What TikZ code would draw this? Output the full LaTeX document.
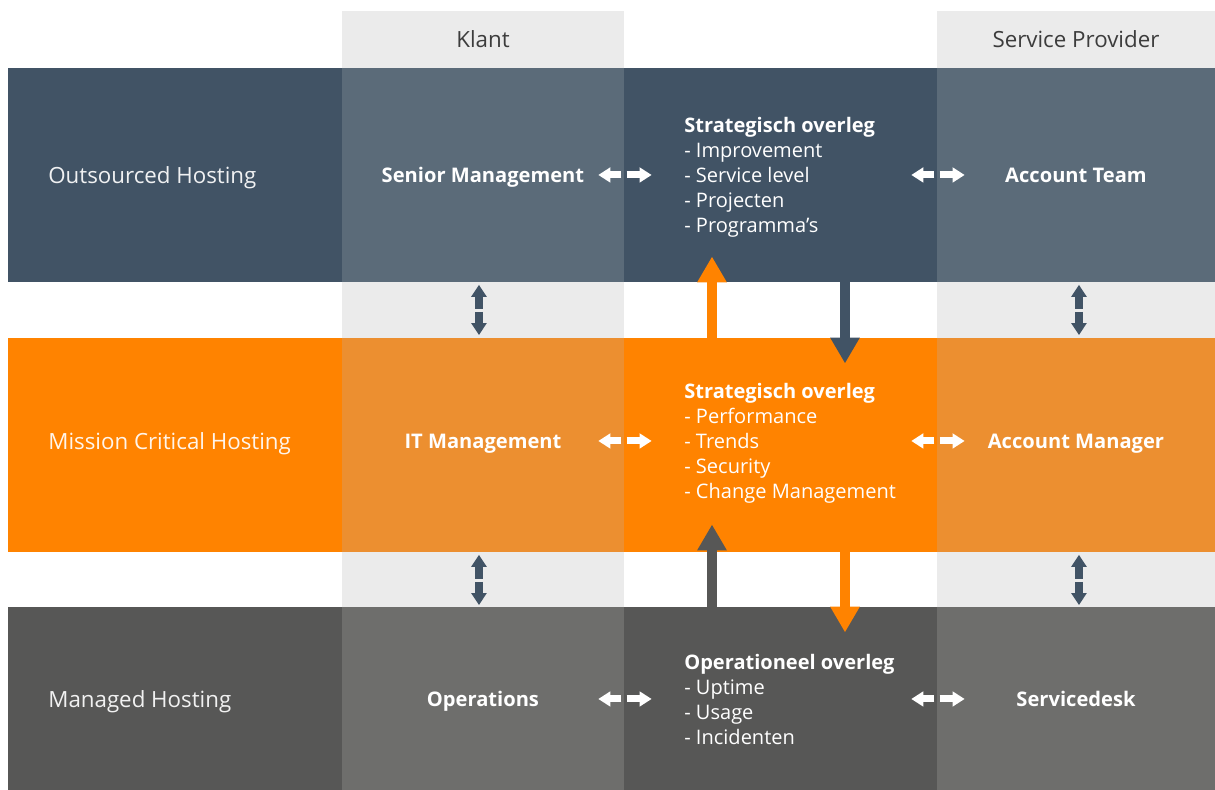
\documentclass[tikz,border=0pt]{standalone}
\usepackage{fontspec}
\setmainfont{Open Sans}
\usetikzlibrary{arrows.meta, positioning, calc}
\definecolor{bluedark}{HTML}{415365}
\definecolor{bluelight}{HTML}{5B6B79}
\definecolor{orangedark}{HTML}{FF8300}
\definecolor{orangelight}{HTML}{EC8F30}
\definecolor{greydark}{HTML}{575756}
\definecolor{greylight}{HTML}{6E6E6C}
\definecolor{gapgrey}{HTML}{EBEBEB}
\definecolor{headtext}{HTML}{3C3C3C}

\begin{document}
\begin{tikzpicture}[x=0.02cm, y=-0.02cm,
  cell/.style={anchor=north west, inner sep=0pt, outer sep=0pt},
  celltext/.style={inner sep=0pt, text=white, text height=0.75em, text depth=0.25em,
    font=\fontsize{11.45}{13}\selectfont\bfseries},
  headbox/.style={anchor=north west, inner sep=0pt, outer sep=0pt, fill=gapgrey,
    text=headtext, font=\fontsize{12.7}{14}\selectfont},
  rowlabel/.style={anchor=west, inner sep=0pt, text=white, text opacity=0.92,
    font=\fontsize{12.7}{15}\selectfont},
  topic/.style={anchor=west, inner sep=0pt, align=left, text=white,
    font=\fontsize{11.4}{14.2}\selectfont},
  wtip/.style={white, line width=4pt, -{Triangle[length=6.8pt, width=8.8pt, line width=0pt]}},
  vtip/.style={bluedark, line width=4.3pt, -{Triangle[length=6.8pt, width=9pt, line width=0pt]}},
  bigtip/.style={line width=6.2pt, -{Triangle[length=14.5pt, width=17pt, line width=0pt]}},
]
\useasboundingbox (0,0) rectangle (1215,790);

% Headers
\node[headbox, minimum width=5.64cm, minimum height=1.14cm] (klant) at (342,11) {Klant};
\node[headbox, minimum width=5.56cm, minimum height=1.14cm] (prov) at (937,11) {Service Provider};

% Row 1: Outsourced Hosting
\node[cell, fill=bluedark, minimum width=6.68cm, minimum height=4.28cm] (oh) at (8,68) {};
\node[cell, fill=bluelight, minimum width=5.64cm, minimum height=4.28cm] (sm) at (342,68) {};
\node[cell, fill=bluedark, minimum width=6.26cm, minimum height=4.28cm] (so1) at (624,68) {};
\node[cell, fill=bluelight, minimum width=5.56cm, minimum height=4.28cm] (at) at (937,68) {};
\node[rowlabel] (ohlabel) at ($(oh.west)+(40,3)$) {Outsourced Hosting};
\node[celltext] (smlabel) at ($(sm.center)+(0,3)$) {Senior Management};
\node[celltext] (atlabel) at ($(at.center)+(0,3)$) {Account Team};
\node[topic] (so1text) at (684,177) {{\bfseries Strategisch overleg}\\- Improvement\\- Service level\\- Projecten\\- Programma’s};

% Gap 1
\node[cell, fill=gapgrey, minimum width=5.64cm, minimum height=1.12cm] (g1b) at (342,282) {};
\node[cell, fill=gapgrey, minimum width=5.56cm, minimum height=1.12cm] (g1d) at (937,282) {};

% Row 2: Mission Critical Hosting
\node[cell, fill=orangedark, minimum width=6.68cm, minimum height=4.28cm] (mc) at (8,338) {};
\node[cell, fill=orangelight, minimum width=5.64cm, minimum height=4.28cm] (itm) at (342,338) {};
\node[cell, fill=orangedark, minimum width=6.26cm, minimum height=4.28cm] (so2) at (624,338) {};
\node[cell, fill=orangelight, minimum width=5.56cm, minimum height=4.28cm] (am) at (937,338) {};
\node[rowlabel] (mclabel) at ($(mc.west)+(40,-1)$) {Mission Critical Hosting};
\node[celltext] (itmlabel) at ($(itm.center)+(0,-1)$) {IT Management};
\node[celltext] (amlabel) at ($(am.center)+(0,-1)$) {Account Manager};
\node[topic] (so2text) at (684,443) {{\bfseries Strategisch overleg}\\- Performance\\- Trends\\- Security\\- Change Management};

% Gap 2
\node[cell, fill=gapgrey, minimum width=5.64cm, minimum height=1.10cm] (g2b) at (342,552) {};
\node[cell, fill=gapgrey, minimum width=5.56cm, minimum height=1.10cm] (g2d) at (937,552) {};

% Row 3: Managed Hosting
\node[cell, fill=greydark, minimum width=6.68cm, minimum height=3.66cm] (mh) at (8,607) {};
\node[cell, fill=greylight, minimum width=5.64cm, minimum height=3.66cm] (ops) at (342,607) {};
\node[cell, fill=greydark, minimum width=6.26cm, minimum height=3.66cm] (oo) at (624,607) {};
\node[cell, fill=greylight, minimum width=5.56cm, minimum height=3.66cm] (sd) at (937,607) {};
\node[rowlabel] (mhlabel) at ($(mh.west)+(40,3.5)$) {Managed Hosting};
\node[celltext] (opslabel) at ($(ops.center)+(0,3.5)$) {Operations};
\node[celltext] (sdlabel) at ($(sd.center)+(0,3.5)$) {Servicedesk};
\node[topic] (ootext) at (684,699.5) {{\bfseries Operationeel overleg}\\- Uptime\\- Usage\\- Incidenten};

% Horizontal double arrows
\foreach \a/\b/\dy in {sm/so1/0, itm/so2/-4, ops/oo/0.5, so1/at/0, so2/am/-4, oo/sd/0.5}{
  \draw[wtip] ($(\a.east)+(-2.5,\dy)$) -- ++(-23,0);
  \draw[wtip] ($(\b.west)+(2.5,\dy)$) -- ++(25,0);
}

% Vertical double arrows
\foreach \a/\dx in {sm/-4, itm/-4, at/3, am/3}{
  \draw[vtip] ($(\a.south)+(\dx,27)$) -- ++(0,-24);
  \draw[vtip] ($(\a.south)+(\dx,30)$) -- ++(0,23);
}

% Escalation arrows
\draw[bigtip, orangedark] ($(so2.north west)+(88,0)$) -- ($(so1.south west)+(88,-25)$);
\draw[bigtip, bluedark] ($(so1.south west)+(221,0)$) -- ($(so2.north west)+(221,25)$);
\draw[bigtip, greydark] ($(oo.north west)+(88,0)$) -- ($(so2.south west)+(88,-27)$);
\draw[bigtip, orangedark] ($(so2.south west)+(221,0)$) -- ($(oo.north west)+(221,25)$);
\end{tikzpicture}
\end{document}
